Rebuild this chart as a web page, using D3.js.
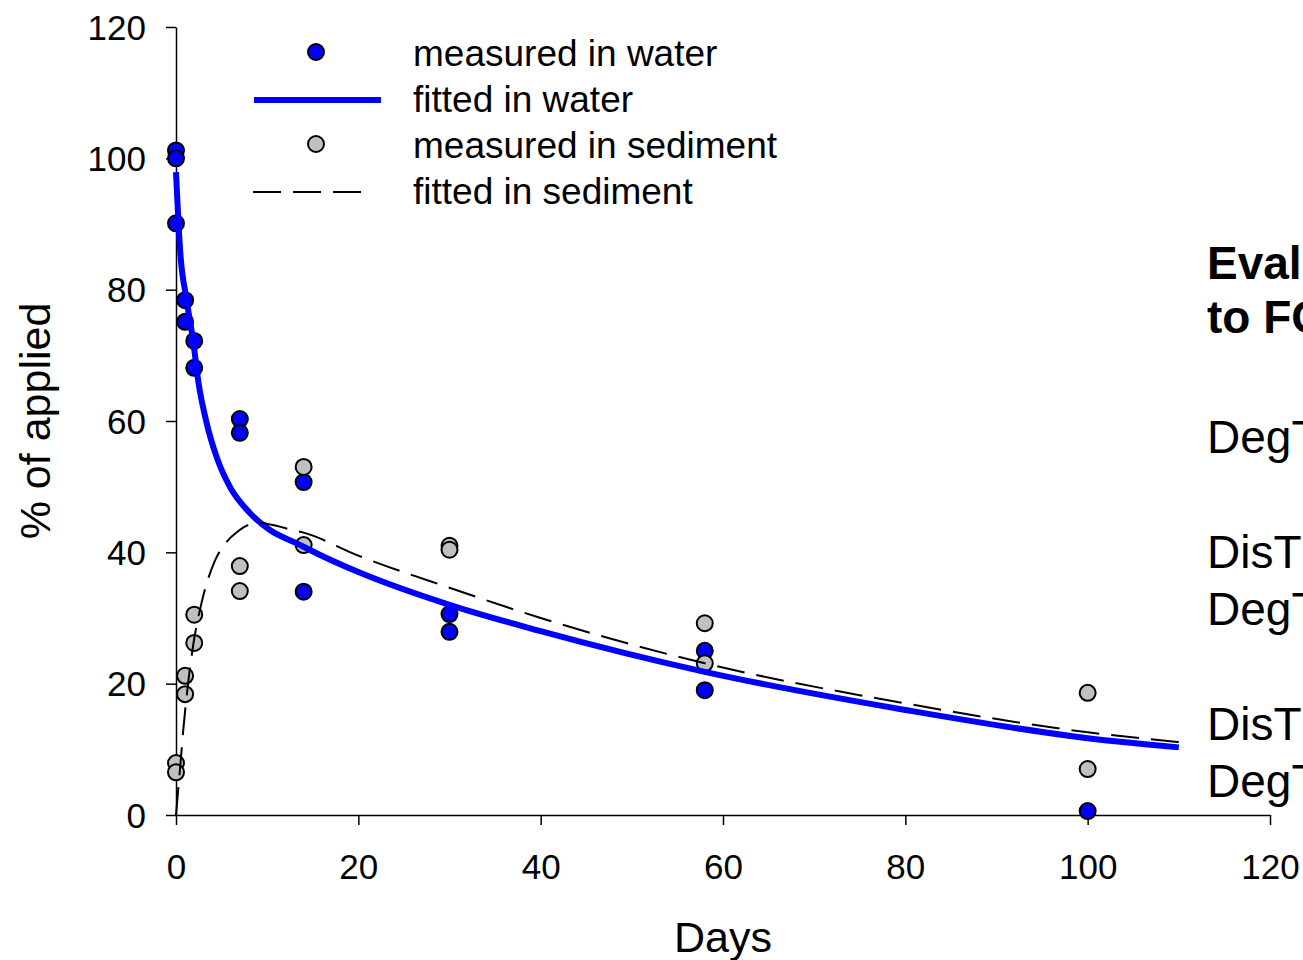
<!DOCTYPE html>
<html>
<head>
<meta charset="utf-8">
<script src="https://cdn.jsdelivr.net/npm/d3@7"></script>
<style>
  body { margin: 0; background: #fff; }
  svg { display: block; font-family: "Liberation Sans", Arial, sans-serif; }
</style>
</head>
<body>
<div id="chart"></div>
<script>
// measured data (days, % of applied)
var waterDays = [0, 0, 0, 1, 1, 2, 2, 7, 7, 14, 14, 30, 30, 58, 58, 100];
var waterMeasured = [101.2, 100, 90.1, 78.4, 75.1, 72.2, 68.1, 60.3, 58.2, 50.7, 34.0, 30.6, 27.9, 25.0, 19.0, 0.6];

var sedDays = [0, 0, 1, 1, 2, 2, 7, 7, 14, 14, 30, 30, 58, 58, 100, 100];
var sedMeasured = [7.9, 6.5, 21.2, 18.4, 30.5, 26.2, 37.9, 34.1, 53.0, 41.1, 41.0, 40.4, 29.2, 23.1, 18.6, 7.0];

// fitted curves
var fitWaterDays = [0, 0.45, 1.17, 1.9, 2.45, 3.36, 4.46, 5.9, 8.1, 10.3, 13.2, 15.8, 20, 30, 40, 58, 80, 100, 110];
var fitWater = [97.9, 86, 78.4, 72, 66, 59.7, 54.5, 50, 46, 43.4, 41.4, 39.6, 37, 32, 28, 21.8, 16, 11.7, 10.3];

var fitSedDays = [0, 0.25, 0.5, 0.8, 1.2, 1.9, 2.8, 4.3, 5.5, 6.7, 8, 9.2, 10.5, 12.5, 14, 20, 30, 40, 58, 80, 100, 110];
var fitSed = [0, 4, 8, 13, 18.5, 26, 32.3, 38.8, 41.5, 43.1, 44.2, 44.5, 44.2, 43.5, 43, 39.5, 34.6, 30, 23.1, 17, 12.6, 11.1];

var xTicks = [0, 20, 40, 60, 80, 100, 120];
var yTicks = [0, 20, 40, 60, 80, 100, 120];

var legendLabels = ["measured in water", "fitted in water", "measured in sediment", "fitted in sediment"];
var sideText = ["Evaluation according", "to FOCUS", "DegT50", "DisT50", "DegT50", "DisT50", "DegT50"];

var svgWidth = 1303, svgHeight = 960;
var margin = { top: 27, left: 176, right: 33, bottom: 145 };
var width = svgWidth - margin.left - margin.right;
var height = svgHeight - margin.top - margin.bottom;

var svg = d3.select("#chart")
  .append("svg")
  .attr("width", svgWidth)
  .attr("height", svgHeight);

var g = svg.append("g")
  .attr("transform", "translate(" + margin.left + "," + margin.top + ")");

var x = d3.scaleLinear().domain([0, 120]).range([0, width]);
var y = d3.scaleLinear().domain([0, 120]).range([height, 0]);

// axes
var xAxis = g.append("g")
  .attr("transform", "translate(0," + height + ")")
  .call(d3.axisBottom(x).tickValues(xTicks).tickSize(10).tickSizeOuter(0).tickFormat(d3.format("d")));
xAxis.select(".domain").attr("stroke", "#000").attr("stroke-width", 1.5);
xAxis.selectAll(".tick line").attr("stroke-width", 1.5);
xAxis.selectAll("text")
  .attr("y", 64).attr("dy", 0)
  .style("font-size", "35px").attr("fill", "#000");

var yAxis = g.append("g")
  .call(d3.axisLeft(y).tickValues(yTicks).tickSize(10).tickSizeOuter(0).tickFormat(d3.format("d")));
yAxis.select(".domain").attr("stroke", "#000").attr("stroke-width", 1.5);
yAxis.selectAll(".tick line").attr("stroke-width", 1.5);
yAxis.selectAll("text")
  .attr("x", -30).attr("dy", "0.35em")
  .style("font-size", "35px").attr("fill", "#000");

g.append("text")
  .attr("x", width / 2)
  .attr("y", 952 - margin.top)
  .attr("text-anchor", "middle")
  .style("font-size", "43px")
  .text("Days");

g.append("text")
  .attr("transform", "translate(" + (50 - margin.left) + "," + (height / 2) + ") rotate(-90)")
  .attr("text-anchor", "middle")
  .style("font-size", "43px")
  .text("% of applied");

// points first, fitted lines go over them
g.selectAll(".water")
  .data(waterDays)
  .enter().append("circle")
  .attr("class", "water")
  .attr("cx", d => x(d))
  .attr("cy", (d, i) => y(waterMeasured[i]))
  .attr("r", 8)
  .attr("fill", "#0000ff")
  .attr("stroke", "#000")
  .attr("stroke-width", 2);

g.selectAll(".sed")
  .data(sedDays)
  .enter().append("circle")
  .attr("class", "sed")
  .attr("cx", d => x(d))
  .attr("cy", (d, i) => y(sedMeasured[i]))
  .attr("r", 8)
  .attr("fill", "#c0c0c0")
  .attr("stroke", "#000")
  .attr("stroke-width", 2);

var line = d3.line()
  .x(d => x(d[0]))
  .y(d => y(d[1]))
  .curve(d3.curveMonotoneX);

g.append("path")
  .datum(fitWaterDays.map((d, i) => [d, fitWater[i]]))
  .attr("d", line)
  .attr("fill", "none")
  .attr("stroke", "#0000ff")
  .attr("stroke-width", 6);

g.append("path")
  .datum(fitSedDays.map((d, i) => [d, fitSed[i]]))
  .attr("d", line)
  .attr("fill", "none")
  .attr("stroke", "#000")
  .attr("stroke-width", 2)
  .attr("stroke-dasharray", "28,12");

// legend
var legend = svg.append("g");
legendLabels.forEach(function(label, i) {
  var cy = 54 + i * 46;
  if (i == 0 || i == 2) {
    legend.append("circle")
      .attr("cx", 316).attr("cy", cy - 2)
      .attr("r", 8)
      .attr("fill", i == 0 ? "#0000ff" : "#c0c0c0")
      .attr("stroke", "#000").attr("stroke-width", 2);
  } else if (i == 1) {
    legend.append("line")
      .attr("x1", 254).attr("x2", 381).attr("y1", cy).attr("y2", cy)
      .attr("stroke", "#0000ff").attr("stroke-width", 6);
  } else {
    legend.append("line")
      .attr("x1", 253).attr("x2", 362).attr("y1", cy).attr("y2", cy)
      .attr("stroke", "#000").attr("stroke-width", 2)
      .attr("stroke-dasharray", "28,12");
  }
  legend.append("text")
    .attr("x", 413)
    .attr("y", cy + 12)
    .style("font-size", "37px")
    .text(label);
});

// text box on the right, runs off the page
var sideY = [279, 333, 453, 568, 625, 740, 797];
sideText.forEach(function(t, i) {
  svg.append("text")
    .attr("x", 1207)
    .attr("y", sideY[i])
    .style("font-size", "46px")
    .style("font-weight", i < 2 ? "bold" : "normal")
    .text(t);
});
</script>
</body>
</html>
